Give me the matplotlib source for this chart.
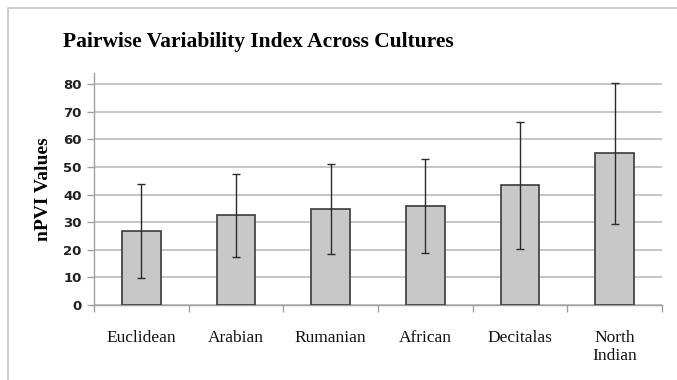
'''nPVI bar chart with error bars'''
import matplotlib
matplotlib.use('Agg')
import matplotlib.pyplot as plt
import numpy as np
from matplotlib.lines import Line2D

cultures = ['Euclidean', 'Arabian', 'Rumanian', 'African', 'Decitalas', 'North\nIndian']
npvi_means = [26.9, 32.5, 34.8, 35.9, 43.3, 54.9]
npvi_errors = [17.0, 15.0, 16.2, 16.9, 23.0, 25.5]
y_ticks = [0, 10, 20, 30, 40, 50, 60, 70, 80]

fig = plt.figure(figsize=(6.77, 3.8), dpi=100)
ax = fig.add_axes([94/677, 1-305/380, (662-94)/677, (305-73)/380])

# chart border (only top and left show)
bx, by = 8/677, 1 - 8/380
fig.lines.append(Line2D([bx, bx, 1.05], [-0.05, by, by], transform=fig.transFigure,
                        color='#c8c8c8', linewidth=1.3))

x = np.arange(len(cultures))
ax.bar(x, npvi_means, width=0.41, color='#c8c8c8', edgecolor='#3a3a3a', linewidth=1.2, zorder=3)
ax.errorbar(x, npvi_means, yerr=npvi_errors, fmt='none', ecolor='#2a2a2a',
            elinewidth=1.0, capsize=2.8, capthick=1.0, zorder=4)

ax.set_xlim(-0.5, len(cultures) - 0.5)
ax.set_ylim(0, 84)
ax.set_yticks(y_ticks)
ax.set_yticklabels([str(v) for v in y_ticks], fontfamily='DejaVu Sans', fontweight='bold',
                   fontsize=9.5, color='#222222')
ax.yaxis.grid(True, color='#c0c0c0', linewidth=1.3, zorder=0)
ax.set_axisbelow(True)

# category ticks on boundaries, labels at centres
ax.set_xticks(np.arange(len(cultures) + 1) - 0.5)
ax.set_xticklabels([])
ax.set_xticks(x, minor=True)
ax.set_xticklabels(cultures, minor=True, fontfamily='Liberation Serif', fontsize=12.5, color='#111111')
ax.tick_params(axis='x', which='minor', length=0, pad=18)
ax.tick_params(axis='x', which='major', length=5, color='#a0a0a0', width=1)
ax.tick_params(axis='y', length=5, color='#a0a0a0', width=1, pad=4)

for side in ['top', 'right']:
    ax.spines[side].set_visible(False)
for side in ['left', 'bottom']:
    ax.spines[side].set_color('#a0a0a0')
    ax.spines[side].set_linewidth(1.0)

ax.set_ylabel('nPVI Values', fontfamily='Liberation Serif', fontweight='bold', fontsize=14, labelpad=8)
fig.text(258/677, 1-42/380, 'Pairwise Variability Index Across Cultures', ha='center', va='center',
         fontfamily='Liberation Serif', fontweight='bold', fontsize=15.5)

fig.savefig('out.png', dpi=100)
